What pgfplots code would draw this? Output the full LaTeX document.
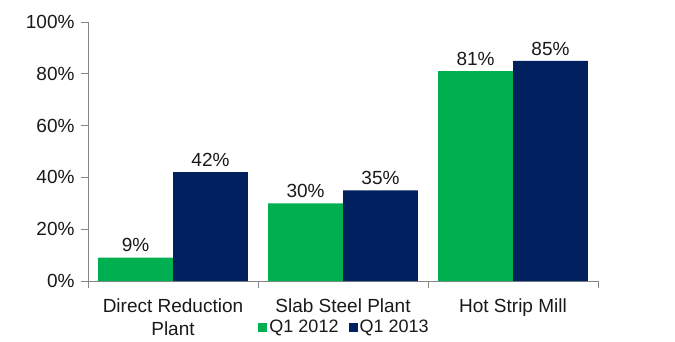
\documentclass[border=0pt]{standalone}
\usepackage{pgfplots}
\pgfplotsset{compat=1.18}
\usepackage{fontspec}
\setmainfont{Liberation Sans}
\definecolor{cgreen}{HTML}{00B050}
\definecolor{cnavy}{HTML}{002060}
\definecolor{caxis}{HTML}{868686}
\begin{document}
\begin{tikzpicture}
\begin{axis}[
  scale only axis,
  width=510bp, height=259bp,
  xmin=-0.5, xmax=2.5,
  ymin=0, ymax=100,
  axis lines*=left,
  axis line style={caxis, line width=0.8bp},
  ybar, bar width=0.441,
  /pgf/number format/assume math mode=true,
  xtick={0,1,2},
  xticklabels={{Direct Reduction\\Plant},{Slab Steel Plant},{Hot Strip Mill}},
  major x tick style={draw=none},
  minor xtick={-0.5,0.5,1.5,2.5},
  minor tick length=7bp,
  minor x tick style={caxis, line width=0.8bp},
  ytick={0,20,40,60,80,100},
  yticklabels={0\%,20\%,40\%,60\%,80\%,100\%},
  major tick length=7bp,
  tick align=outside,
  y tick style={caxis, line width=0.8bp},
  tick label style={font=\fontsize{19bp}{23bp}\selectfont, text=black!90},
  xticklabel style={align=center, yshift=-7bp},
  yticklabel style={xshift=-3bp},
  nodes near coords={\pgfmathprintnumber{\pgfplotspointmeta}\%},
  nodes near coords style={font=\fontsize{19bp}{23bp}\selectfont, text=black!90, yshift=2bp},
  legend columns=2,
  legend style={at={(0.503,-0.178)}, anchor=center, draw=none, fill=none,
    font=\fontsize{18bp}{21bp}\selectfont, text=black!90,
    /tikz/every even column/.append style={column sep=8bp},
    inner sep=0pt},
  legend image code/.code={\fill[#1] (0bp,-4.5bp) rectangle (9bp,4.5bp);},
]
\addplot[fill=cgreen, draw=none, bar shift=-0.2205] coordinates {(0,9) (1,30) (2,81)};
\addlegendentry{Q1 2012}
\addplot[fill=cnavy, draw=none, bar shift=0.2205] coordinates {(0,42) (1,35) (2,85)};
\addlegendentry{Q1 2013}
\end{axis}
\pgfresetboundingbox
\path (-88bp,-61bp) rectangle (587bp,281bp);
\end{tikzpicture}
\end{document}
